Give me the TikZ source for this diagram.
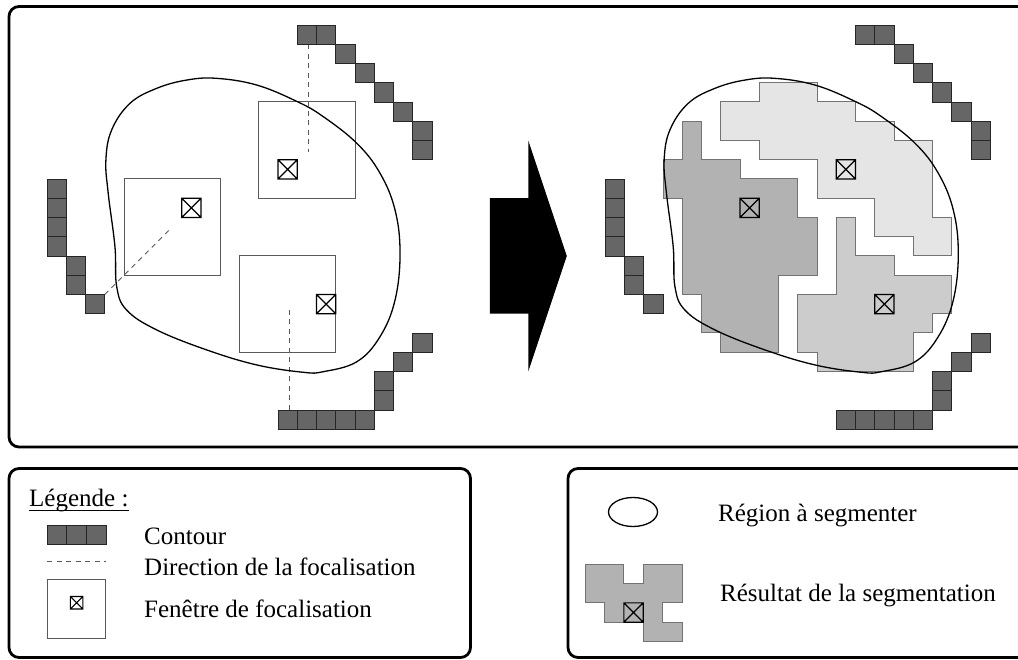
\documentclass[tikz,border=0pt]{standalone}
\usepackage{fontspec}
\setmainfont{Liberation Serif}
\usetikzlibrary{positioning}

% contour cells, given in grid cells of one panel
\newcommand{\contourcells}{%
    \foreach \i/\j in {13/0,14/0,15/1,16/2,17/3,18/4,19/5,19/6,
                       0/8,0/9,0/10,0/11,1/12,1/13,2/14,
                       12/20,13/20,14/20,15/20,16/20,17/19,17/18,18/17,19/16}
        \draw[contourcell] (\i,\j) rectangle ++(1,1);%
}

% outline of the region to segment
\newcommand{\regionblob}{%
    \draw[blob] plot[smooth cycle, tension=0.65] coordinates {
        (8.8,2.77) (10.9,3.12) (13.0,3.98) (14.35,4.76) (16.1,6.15)
        (17.3,7.7) (18.08,9.61) (18.34,11.86) (18.08,14.29) (17.3,16.19)
        (16.1,17.49) (14.35,18.01) (13.3,18.04) (10.9,17.66) (8.3,16.88)
        (5.7,15.84) (4.14,14.81) (3.62,13.59) (3.53,11.52) (3.18,8.74)
        (3.06,7.01) (3.36,5.45) (4.31,4.07) (5.7,3.29) (7.26,2.86)};%
}

% seed cell: square with both diagonals
\newcommand{\crossbox}[3][1]{%
    \draw[cross] (#2,#3) rectangle ++(#1,#1)
        (#2,#3) -- ++(#1,#1)
        (#2,#3) ++(#1,0) -- ++(-#1,#1);%
}

\begin{document}
\begin{tikzpicture}[
    x=1pt, y=-1pt,
    font=\fontsize{25pt}{30pt}\selectfont,
    frame/.style={
        draw,
        line width=2.8pt,
        rounded corners=10pt
    },
    contourcell/.style={
        fill=black!60,
        draw=black!85,
        line width=0.9pt
    },
    window/.style={
        draw=black!65,
        line width=1pt
    },
    focusline/.style={
        draw=black!65,
        line width=1pt,
        dash pattern=on 5pt off 4.5pt
    },
    cross/.style={
        draw=black,
        line width=1.1pt
    },
    blob/.style={
        draw=black,
        line width=1.3pt
    },
    region/.style={
        draw=black!55,
        line width=1pt
    },
    label/.style={
        anchor=base west,
        inner sep=0pt
    }
]

\useasboundingbox (0,0) rectangle (1018,660);

% ------------------------------------------------------------------
% Frames
% ------------------------------------------------------------------

\draw[frame] (9,6.5) rectangle (1032,447);
\draw[frame] (9,468.5) rectangle (470.5,657.5);
\draw[frame] (568,468.5) rectangle (1032,657.5);

% ------------------------------------------------------------------
% Left panel: focus windows
% ------------------------------------------------------------------

\begin{scope}[shift={(47pt,-25pt)}, x=19.25pt, y=-19.25pt]
    \draw[window] (11,4) rectangle (16,9);
    \draw[window] (4,8) rectangle (9,13);
    \draw[window] (10,12) rectangle (15,17);

    \draw[focusline] (13.6,1) -- (13.6,6.6);
    \draw[focusline] (3,14) -- (6.4,10.6);
    \draw[focusline] (12.6,20) -- (12.6,14.6);

    \crossbox{12}{7}
    \crossbox{7}{9}
    \crossbox{14}{14}

    \contourcells
    \regionblob

    % transition arrow
    \fill (23,9) -- (25,9) -- (25,6) -- (27,12) -- (25,18)
        -- (25,15) -- (23,15) -- cycle;
\end{scope}

% ------------------------------------------------------------------
% Right panel: segmentation result
% ------------------------------------------------------------------

\begin{scope}[shift={(605.25pt,-25pt)}, x=19.25pt, y=-19.25pt]
    \draw[region, fill=black!30]
        (4,5) -- (5,5) -- (5,7) -- (7,7) -- (7,8) -- (10,8) -- (10,10)
        -- (11,10) -- (11,13) -- (9,13) -- (9,17) -- (6,17) -- (6,16)
        -- (5,16) -- (5,14) -- (4,14) -- (4,9) -- (3,9) -- (3,7)
        -- (4,7) -- cycle;
    \draw[region, fill=black!10]
        (8,3) -- (11,3) -- (11,4) -- (13,4) -- (13,5) -- (15,5) -- (15,6)
        -- (17,6) -- (17,10) -- (18,10) -- (18,12) -- (16,12) -- (16,11)
        -- (14,11) -- (14,9) -- (11,9) -- (11,7) -- (8,7) -- (8,6)
        -- (6,6) -- (6,4) -- (8,4) -- cycle;
    \draw[region, fill=black!20]
        (12,10) -- (13,10) -- (13,12) -- (15,12) -- (15,13) -- (18,13)
        -- (18,15) -- (17,15) -- (17,16) -- (16,16) -- (16,18) -- (11,18)
        -- (11,17) -- (10,17) -- (10,14) -- (12,14) -- cycle;

    \crossbox{7}{9}
    \crossbox{12}{7}
    \crossbox{14}{14}

    \contourcells
    \regionblob
\end{scope}

% ------------------------------------------------------------------
% Legend
% ------------------------------------------------------------------

\node[label] (legendtitle) at (29,506.5) {Légende :};
\draw[line width=1pt] ([yshift=-4pt]legendtitle.base west)
    -- ([yshift=-4pt]legendtitle.base east);

\foreach \k in {0,1,2}
    \draw[contourcell] (47+19.7*\k,525) rectangle ++(19.7,19.3);
\node[label] (contourlabel) at (144,544) {Contour};

\draw[focusline] (47,561) -- (106,561);
\node[label] (directionlabel) at (144,575.5) {Direction de la focalisation};

\draw[window] (47.3,579) rectangle (105.7,638);
\crossbox[12.5]{70.3}{596.5}
\node[label] (windowlabel) at (144,617.5) {Fenêtre de focalisation};

\draw[blob] (633,512) ellipse [x radius=24.5pt, y radius=14.5pt];
\node[label] (regionlabel) at (718,521.5) {Région à segmenter};

\begin{scope}[shift={(585pt,-564pt)}, x=19.4pt, y=-19.4pt]
    \draw[region, fill=black!30]
        (0,0) -- (2,0) -- (2,1) -- (3,1) -- (3,0) -- (5,0) -- (5,2)
        -- (4,2) -- (4,3) -- (5,3) -- (5,4) -- (3,4) -- (3,3) -- (1,3)
        -- (1,2) -- (0,2) -- cycle;
    \crossbox{2}{2}
\end{scope}
\node[label] (resultlabel) at (720,601) {Résultat de la segmentation};

\end{tikzpicture}
\end{document}
